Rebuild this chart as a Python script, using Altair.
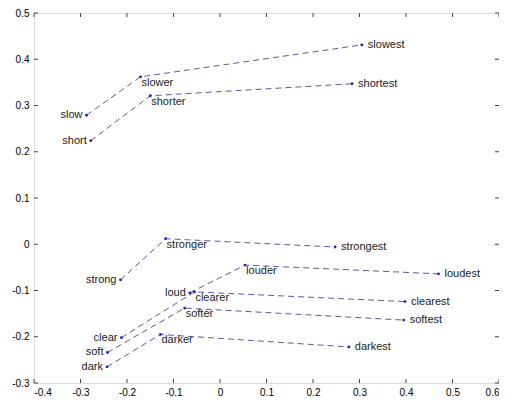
import altair as alt
import pandas as pd

groups = ["slow", "short", "strong", "loud", "clear", "soft", "dark"]
base_words = ["slow", "short", "strong", "loud", "clear", "soft", "dark"]
comp_words = ["slower", "shorter", "stronger", "louder", "clearer", "softer", "darker"]
sup_words = ["slowest", "shortest", "strongest", "loudest", "clearest", "softest", "darkest"]

base_x = [-0.287, -0.278, -0.214, -0.065, -0.212, -0.242, -0.243]
base_y = [0.279, 0.224, -0.077, -0.105, -0.202, -0.234, -0.265]
comp_x = [-0.171, -0.150, -0.117, 0.054, -0.055, -0.076, -0.128]
comp_y = [0.362, 0.321, 0.012, -0.045, -0.103, -0.138, -0.195]
sup_x = [0.305, 0.284, 0.2475, 0.470, 0.398, 0.395, 0.277]
sup_y = [0.431, 0.347, -0.006, -0.064, -0.124, -0.164, -0.222]

x_ticks = [-0.4, -0.3, -0.2, -0.1, 0, 0.1, 0.2, 0.3, 0.4, 0.5, 0.6]
y_ticks = [-0.3, -0.2, -0.1, 0, 0.1, 0.2, 0.3, 0.4, 0.5]

rows = []
for i, g in enumerate(groups):
    rows.append(dict(group=g, rank=0, word=base_words[i], x=base_x[i], y=base_y[i]))
    rows.append(dict(group=g, rank=1, word=comp_words[i], x=comp_x[i], y=comp_y[i]))
    rows.append(dict(group=g, rank=2, word=sup_words[i], x=sup_x[i], y=sup_y[i]))
df = pd.DataFrame(rows)

W, H = 465, 370
xs = alt.Scale(domain=[-0.4, 0.6], nice=False, zero=False)
ys = alt.Scale(domain=[-0.3, 0.5], nice=False, zero=False)
lab = "replace(datum.label, '\u2212', '-')"
xenc = alt.X("x:Q", scale=xs, axis=alt.Axis(values=x_ticks, title=None, grid=False, tickSize=0, format="~g",
                                            labelExpr=lab, labelPadding=4, domain=False))
yenc = alt.Y("y:Q", scale=ys, axis=alt.Axis(values=y_ticks, title=None, grid=False, tickSize=0, format="~g",
                                            labelExpr=lab, labelPadding=5, domain=False))

base = alt.Chart(df)
lines = base.mark_line(strokeDash=[6, 4], strokeWidth=1, color="#5a5aa0").encode(
    x=xenc, y=yenc, detail="group:N", order="rank:O")
pts = base.mark_point(filled=True, size=8, color="#2020c0", opacity=1).encode(x="x:Q", y="y:Q")

lab_font = dict(font="Liberation Sans", fontSize=11, color="#222222")
t0 = base.transform_filter("datum.rank == 0").mark_text(align="right", baseline="middle", dx=-4, **lab_font).encode(
    x="x:Q", y="y:Q", text="word:N")
t1 = base.transform_filter("datum.rank == 1").mark_text(align="left", baseline="middle", dx=1, dy=6, **lab_font).encode(
    x="x:Q", y="y:Q", text="word:N")
t2 = base.transform_filter("datum.rank == 2").mark_text(align="left", baseline="middle", dx=6, **lab_font).encode(
    x="x:Q", y="y:Q", text="word:N")

xt = alt.Chart(pd.DataFrame({"x": x_ticks}))
yt = alt.Chart(pd.DataFrame({"y": y_ticks}))
tc = "#444444"
tb = xt.mark_rule(color=tc).encode(x="x:Q", y=alt.value(H), y2=alt.value(H - 4))
tt = xt.mark_rule(color=tc).encode(x="x:Q", y=alt.value(0), y2=alt.value(4))
tl = yt.mark_rule(color=tc).encode(y="y:Q", x=alt.value(0), x2=alt.value(4))
tr = yt.mark_rule(color=tc).encode(y="y:Q", x=alt.value(W), x2=alt.value(W - 4))

chart = alt.layer(lines, pts, t0, t1, t2, tb, tt, tl, tr).properties(
    width=W, height=H, autosize="none",
    padding={"left": 26, "top": 5, "right": 0, "bottom": 14},
).configure_view(stroke="#444444", strokeWidth=1).configure_axis(
    labelFont="Liberation Sans", labelFontSize=10, labelColor="#222222"
).configure(background="white")

chart.save("out.html", embed_options={"renderer": "svg", "actions": False})
